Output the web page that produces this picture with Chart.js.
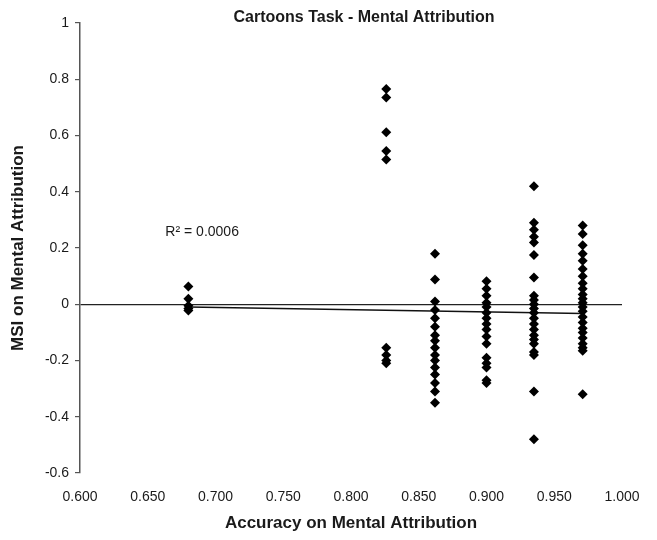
<!DOCTYPE html>
<html>
<head>
<meta charset="utf-8">
<script src="https://cdn.jsdelivr.net/npm/chart.js@4.4.1/dist/chart.umd.min.js"></script>
<style>
  html, body { margin: 0; padding: 0; background: #fff; }
  #wrap { width: 657px; height: 540px; position: relative; }
</style>
</head>
<body>
<div id="wrap"><canvas id="c" width="657" height="540"></canvas></div>
<script>
// ---- Data ----
const chartTitle = "Cartoons Task - Mental Attribution";
const xTitle = "Accuracy on Mental Attribution";
const yTitle = "MSI on Mental Attribution";
const accuracyLevels = [0.680, 0.826, 0.862, 0.900, 0.935, 0.971];
const msiAt0680 = [0.063, 0.02, -0.005, -0.015, -0.022];
const msiAt0826 = [0.765, 0.735, 0.612, 0.545, 0.515, -0.155, -0.18, -0.2, -0.21];
const msiAt0862 = [0.18, 0.088, 0.01, -0.02, -0.05, -0.08, -0.11, -0.13, -0.155, -0.18, -0.2, -0.225, -0.25, -0.28, -0.31, -0.35];
const msiAt0900 = [0.082, 0.055, 0.03, 0.005, -0.01, -0.03, -0.05, -0.07, -0.09, -0.115, -0.14, -0.19, -0.21, -0.225, -0.27, -0.28];
const msiAt0935 = [0.42, 0.29, 0.265, 0.24, 0.22, 0.175, 0.095, 0.03, 0.015, 0.0, -0.015, -0.03, -0.05, -0.07, -0.09, -0.11, -0.125, -0.14, -0.17, -0.18, -0.31, -0.48];
const msiAt0971 = [0.28, 0.25, 0.21, 0.18, 0.155, 0.125, 0.1, 0.075, 0.055, 0.035, 0.02, 0.005, -0.01, -0.025, -0.045, -0.065, -0.085, -0.1, -0.12, -0.14, -0.155, -0.165, -0.32];
const msiByLevel = [msiAt0680, msiAt0826, msiAt0862, msiAt0900, msiAt0935, msiAt0971];
const trendX = [0.680, 0.971];
const trendY = [-0.01, -0.033];
const r2Label = "R\u00B2 = 0.0006";
const r2Pos = [0.663, 0.258];
const xTicks = [0.600, 0.650, 0.700, 0.750, 0.800, 0.850, 0.900, 0.950, 1.000];
const yTicks = [1, 0.8, 0.6, 0.4, 0.2, 0, -0.2, -0.4, -0.6];

// ---- Build points ----
const scatterPts = [];
accuracyLevels.forEach((x, i) => msiByLevel[i].forEach(y => scatterPts.push({x, y})));
const trendPts = trendX.map((x, i) => ({x, y: trendY[i]}));

const FONT = "'Liberation Sans', Arial, Helvetica, sans-serif";

const textPlugin = {
  id: 'texts',
  afterDraw(chart) {
    const {ctx, scales} = chart;
    ctx.save();
    ctx.fillStyle = '#1a1a1a';
    ctx.font = "bold 16px " + FONT;
    ctx.textAlign = 'center';
    ctx.textBaseline = 'middle';
    ctx.fillText(chartTitle, 364, 18);
    ctx.font = "14px " + FONT;
    ctx.textAlign = 'left';
    ctx.fillText(r2Label, scales.x.getPixelForValue(r2Pos[0]), scales.y.getPixelForValue(r2Pos[1]));
    ctx.restore();
  }
};

new Chart(document.getElementById('c'), {
  type: 'scatter',
  data: {
    datasets: [
      {
        type: 'line',
        data: trendPts,
        borderColor: '#111',
        borderWidth: 1.5,
        pointRadius: 0,
        fill: false,
        order: 1
      },
      {
        data: scatterPts,
        pointStyle: 'rectRot',
        pointRadius: 5,
        backgroundColor: '#000',
        borderColor: '#000',
        borderWidth: 0,
        order: 0
      }
    ]
  },
  options: {
    responsive: false,
    animation: false,
    layout: { padding: { top: 23, right: 35, left: 0, bottom: 0 } },
    plugins: { legend: { display: false }, tooltip: { enabled: false }, title: { display: false } },
    scales: {
      x: {
        type: 'linear',
        min: 0.6, max: 1.0,
        afterBuildTicks(s) { s.ticks = xTicks.map(v => ({value: v})); },
        afterFit(s) { s.height = 67; },
        grid: { display: false, drawTicks: false },
        border: { display: false },
        ticks: {
          padding: 16,
          color: '#1a1a1a',
          font: { family: FONT, size: 14 },
          callback: v => Number(v).toFixed(3),
          maxRotation: 0
        },
        title: {
          display: true,
          text: xTitle,
          color: '#1a1a1a',
          font: { family: FONT, size: 17, weight: 'bold' },
          padding: { top: 0, bottom: 6 }
        }
      },
      y: {
        type: 'linear',
        min: -0.6, max: 1,
        afterBuildTicks(s) { s.ticks = yTicks.map(v => ({value: v})); },
        afterFit(s) { s.width = 80; },
        grid: {
          drawOnChartArea: true,
          drawTicks: true,
          tickLength: 5,
          color: ctx => (ctx.tick && ctx.tick.value === 0) ? '#222' : 'rgba(0,0,0,0)',
          tickColor: '#555',
          lineWidth: 1.2
        },
        border: { display: true, color: '#555', width: 1.5 },
        ticks: {
          padding: 6,
          color: '#1a1a1a',
          font: { family: FONT, size: 14 },
          callback: v => String(v)
        },
        title: {
          display: true,
          text: yTitle,
          color: '#1a1a1a',
          font: { family: FONT, size: 17, weight: 'bold' },
          padding: { top: 8, bottom: 0 }
        }
      }
    }
  },
  plugins: [textPlugin]
});
</script>
</body>
</html>
